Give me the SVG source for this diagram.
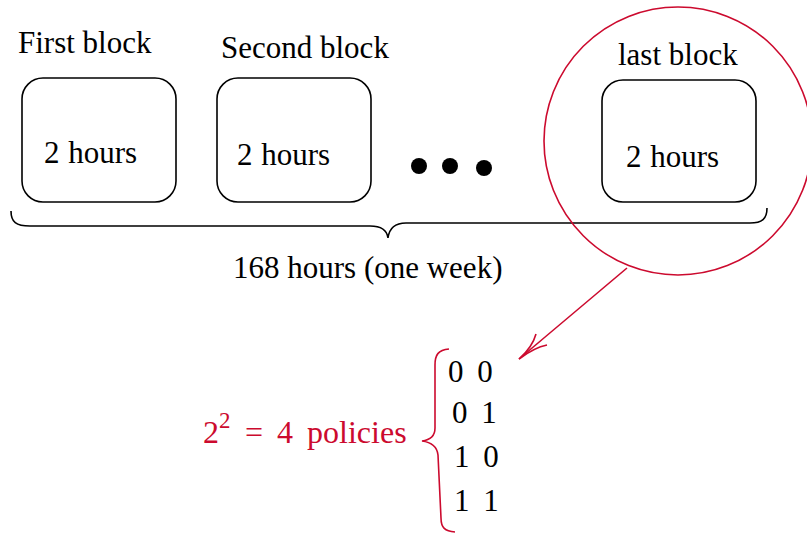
<svg xmlns="http://www.w3.org/2000/svg" width="807" height="533" viewBox="0 0 807 533">
<defs>
<style>
.box{fill:none;stroke:#000;stroke-width:1.6}
.redline{fill:none;stroke:#cc0a2e;stroke-width:1.6}
.brace{fill:none;stroke:#000;stroke-width:1.6}
</style>
</defs>
<rect width="807" height="533" fill="#fff"/>
<g font-family="'Liberation Serif', serif" font-size="31">
<g id="block1">
<text x="18" y="53">First block</text>
<rect class="box" x="22" y="78" width="154" height="124" rx="21"/>
<text x="44" y="163" word-spacing="1">2 hours</text>
</g>
<g id="block2">
<text x="221" y="58">Second block</text>
<rect class="box" x="217" y="78" width="154" height="124" rx="21"/>
<text x="237" y="165" word-spacing="1">2 hours</text>
</g>
<g id="dots">
<circle cx="419" cy="166" r="8"/>
<circle cx="450" cy="166" r="8"/>
<circle cx="484" cy="168" r="8"/>
</g>
<g id="block3">
<text x="618" y="65">last block</text>
<rect class="box" x="602" y="80" width="154" height="122" rx="21"/>
<text x="626" y="167" word-spacing="1">2 hours</text>
</g>
<g id="week">
<path class="brace" d="M11,211 C11,222 16,226 30,226 L370,226 C382,226 387,230 388,238 C389,230 394,223 406,223 L750,223 C762,223 767,219 767,208"/>
<text x="233" y="278">168 hours (one week)</text>
</g>
<g id="highlight">
<circle class="redline" cx="678" cy="141" r="134"/>
</g>
<g id="connectors">
<path class="redline" d="M627,268 L519,359"/>
<path class="redline" d="M536,334 C533,345 527,352 519,359 C527,353 537,347 547,345"/>
</g>
<g id="policies">
<text fill="#cc0a2e" x="203" y="443" font-size="32">2<tspan dy="-15" font-size="23">2</tspan><tspan x="245" dy="15" word-spacing="6">= 4 policies</tspan></text>
<path class="redline" d="M449,349 C438,350 435,355 435,365 L435,428 C435,436 430,440 422,441 C430,442 437,446 438,455 L441,518 C441,528 445,531 455,532"/>
<text x="448" y="382" word-spacing="6">0 0</text>
<text x="452" y="423" word-spacing="6">0 1</text>
<text x="454" y="467" word-spacing="6">1 0</text>
<text x="454" y="511" word-spacing="6">1 1</text>
</g>
</g>
</svg>
